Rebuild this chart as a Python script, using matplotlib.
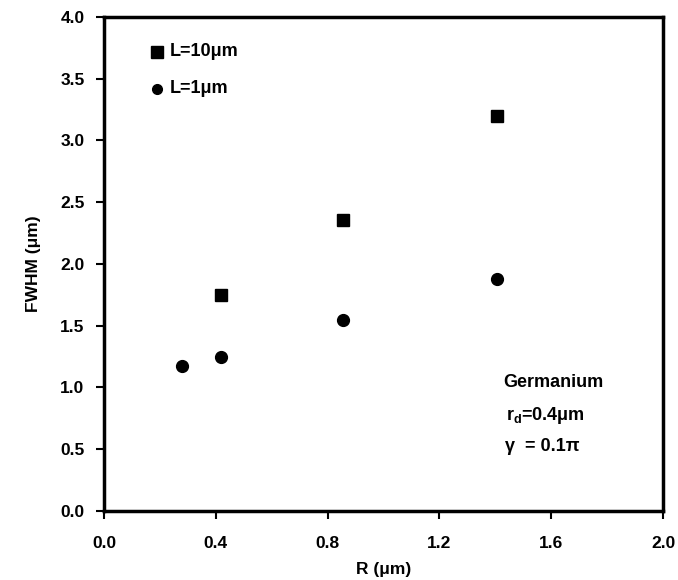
import matplotlib
matplotlib.use("Agg")
import matplotlib.pyplot as plt

plt.rcParams['font.family'] = ['Liberation Sans', 'DejaVu Sans']
plt.rcParams['font.weight'] = 'bold'

# FWHM vs. R for two propagation lengths
r_l10 = [0.42, 0.855, 1.405]
fwhm_l10 = [1.75, 2.36, 3.20]
r_l1 = [0.28, 0.42, 0.855, 1.405]
fwhm_l1 = [1.17, 1.25, 1.55, 1.88]

xticks = [0.0, 0.4, 0.8, 1.2, 1.6, 2.0]
yticks = [0.0, 0.5, 1.0, 1.5, 2.0, 2.5, 3.0, 3.5, 4.0]

fig = plt.figure(figsize=(6.78, 5.80), dpi=100)
ax = fig.add_axes([0.1534, 0.119, 0.8245, 0.8517])

ax.plot(r_l10, fwhm_l10, 's', color='black', markersize=9, linestyle='none')
ax.plot(r_l1, fwhm_l1, 'o', color='black', markersize=8.5, linestyle='none')

ax.set_xlim(0, 2.0)
ax.set_ylim(0, 4.0)
ax.set_xticks(xticks)
ax.set_yticks(yticks)
ax.set_xticklabels([f"{v:.1f}" for v in xticks])
ax.set_yticklabels([f"{v:.1f}" for v in yticks])
ax.tick_params(direction='out', length=6, width=1.5, labelsize=12.5, pad=8)
ax.tick_params(axis='x', pad=12)
for s in ax.spines.values():
    s.set_linewidth(2.5)

ax.set_xlabel('R (μm)', fontsize=12.5, fontweight='bold', labelpad=8)
ax.set_ylabel('FWHM (μm)', fontsize=12.5, fontweight='bold', labelpad=14)

# legend entries
ax.plot([0.19], [3.72], 's', color='black', markersize=8)
ax.text(0.235, 3.72, 'L=10μm', fontsize=13, fontweight='bold', va='center')
ax.plot([0.19], [3.42], 'o', color='black', markersize=7)
ax.text(0.235, 3.42, 'L=1μm', fontsize=13, fontweight='bold', va='center')

# material annotations
ax.text(1.43, 1.04, 'Germanium', fontsize=13, fontweight='bold', va='center')
ax.text(1.44, 0.77, r'r$_\mathregular{d}$=0.4μm', fontsize=13, fontweight='bold', va='center')
ax.text(1.435, 0.52, 'γ  = 0.1π', fontsize=13, fontweight='bold', va='center')

fig.savefig('out.png', dpi=100)
